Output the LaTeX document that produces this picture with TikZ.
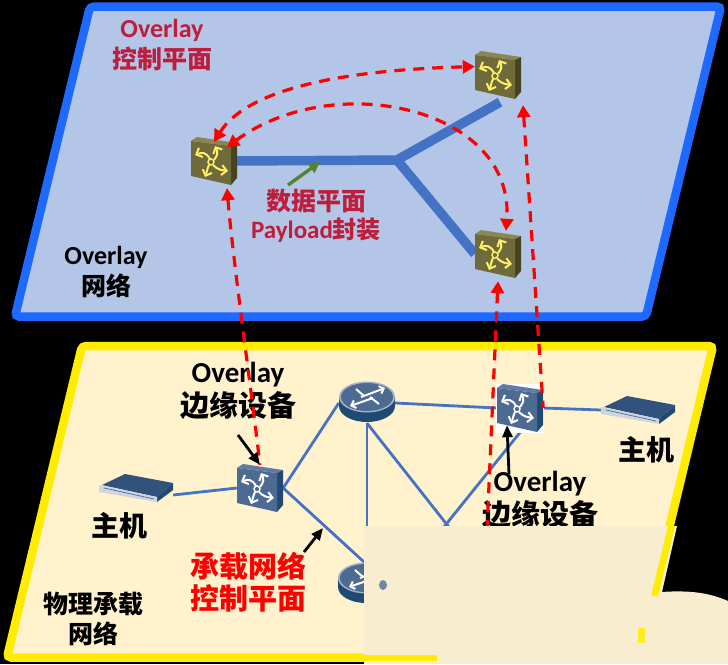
\documentclass[tikz,border=0pt]{standalone}
\usepackage{fontspec}
\setmainfont{Carlito}
\newfontfamily\cjk{Noto Sans CJK SC}
\usepackage{tikz}
\usetikzlibrary{positioning, calc, arrows.meta}
\definecolor{overlayblue}{RGB}{30, 105, 255}
\definecolor{overlayfill}{RGB}{180, 198, 231}
\definecolor{underyellow}{RGB}{255, 236, 0}
\definecolor{underfill}{RGB}{255, 242, 204}
\definecolor{patchfill}{RGB}{249, 237, 208}
\definecolor{linkblue}{RGB}{68, 114, 196}
\definecolor{ctrlred}{RGB}{190, 30, 60}
\definecolor{dataarrow}{RGB}{84, 130, 53}
\definecolor{olfront}{RGB}{110, 106, 58}
\definecolor{oltop}{RGB}{140, 135, 80}
\definecolor{olside}{RGB}{70, 67, 32}
\definecolor{olarrow}{RGB}{255, 240, 105}
\definecolor{stfront}{RGB}{76, 106, 146}
\definecolor{sttop}{RGB}{96, 124, 163}
\definecolor{stside}{RGB}{31, 74, 114}
\definecolor{hosttop}{RGB}{48, 82, 124}
\definecolor{hostfront}{RGB}{205, 213, 223}
\newcommand{\swicon}[4]{
    \fill[#2] (-23,-20) -- (-17,-24) -- (23,-18) -- (17,-15) -- cycle;
    \fill[#3] (17,-15) -- (23,-18) -- (23,17) -- (17,24) -- cycle;
    \fill[#1] (-23,-20) -- (17,-15) -- (17,24) -- (-23,15) -- cycle;
    \draw[#4, line width=2pt, -{Straight Barb[length=5pt,width=10pt]}] (-4,-2) .. controls (-8,-9) and (-12,-9) .. (-19,-6);
    \draw[#4, line width=2pt, -{Straight Barb[length=5pt,width=10pt]}] (0,-1) .. controls (4,-6) and (4,-9) .. (1,-15);
    \draw[#4, line width=2pt, -{Straight Barb[length=5pt,width=10pt]}] (-1,4) .. controls (4,9) and (7,9) .. (14,10);
    \draw[#4, line width=2pt, -{Straight Barb[length=5pt,width=10pt]}] (-5,4) .. controls (-7,8) and (-7,11) .. (-9,16);
    \draw[#4, line width=1.4pt] (-3,1) circle (3);
}
\tikzset{
    pics/olswitch/.style={code={\swicon{olfront}{oltop}{olside}{olarrow}}},
    pics/stswitch/.style={code={\swicon{stfront}{sttop}{stside}{white}}},
    pics/router/.style={code={
        \fill[stside] (-28,-6) -- (-28,3) arc[start angle=180, end angle=360, x radius=28, y radius=-16] -- (28,-6) -- cycle;
        \fill[sttop!60!white] (0,-6) ellipse (28 and 15.5);
        \fill[stfront] (0,-6) ellipse (26 and 14);
        \draw[white, line width=2pt, -{Straight Barb[length=4pt,width=8pt]}] (-6,-6) -- (18,-15);
        \draw[white, line width=2pt, -{Straight Barb[length=4pt,width=8pt]}] (6,-5) -- (-17,3);
        \draw[white, line width=2pt] (-11,-14) -- (-3,-7);
        \draw[white, line width=2pt] (3,-6) -- (12,1);
    }},
    pics/hostbox/.style={code={
        \fill[hosttop] (-34,-3) -- (-11,-14) -- (37,-5) -- (21,9) -- cycle;
        \fill[stside] (21,9) -- (37,-5) -- (37,2) -- (21,14) -- cycle;
        \fill[hostfront] (-37,-3) -- (21,9) -- (21,14) -- (-37,4) -- cycle;
        \draw[stfront, line width=0.7pt] (-32,0) -- (18,11);
    }},
    swnode/.style={minimum width=46pt, minimum height=46pt, inner sep=0pt},
    routernode/.style={minimum width=56pt, minimum height=40pt, inner sep=0pt},
    hostnode/.style={minimum width=74pt, minimum height=28pt, inner sep=0pt},
    plane/.style={line width=8.5pt, rounded corners=4pt},
    datalink/.style={linkblue, line width=9.5pt},
    link/.style={linkblue, line width=2.8pt},
    ctrlpath/.style={red, line width=3.2pt, dash pattern=on 11pt off 8pt, {Triangle[length=12pt,width=13pt]}-{Triangle[length=12pt,width=13pt]}},
    ctrlup/.style={red, line width=3.2pt, dash pattern=on 11pt off 8pt, {Triangle[length=12pt,width=13pt]}-},
    pointer/.style={-{Triangle[length=12pt,width=10pt]}, line width=2.8pt},
    lbl/.style={align=center, inner sep=0pt}
}
\newcommand{\en}[1]{\fontsize{#1}{#1}\selectfont\bfseries}
\newcommand{\zh}[1]{\fontsize{#1}{#1}\selectfont\bfseries\cjk}

\begin{document}
\begin{tikzpicture}[x=1pt, y=-1pt]
    \fill[black] (0,0) rectangle (728,664);
    \useasboundingbox (0,0) rectangle (728,664);

    % planes
    \draw[plane, draw=overlayblue, fill=overlayfill] (90,6.5) -- (721,6.5) -- (646,316.5) -- (15,316.5) -- cycle;
    \draw[plane, draw=underyellow, fill=underfill] (82,346) -- (713,346) -- (638,657.5) -- (7,657.5) -- cycle;

    % device positions
    \node[swnode] (ctrlL) at (214,161) {};
    \node[swnode] (ctrlT) at (498,75) {};
    \node[swnode] (ctrlB) at (498,254) {};
    \coordinate (fork) at (397,160);
    \node[swnode] (edgeL) at (260,488) {};
    \node[swnode] (edgeR) at (520,408) {};
    \node[routernode] (routerT) at (367,403) {};
    \node[routernode] (routerB) at (366,584) {};
    \node[hostnode] (hostL) at (136,488) {};
    \node[hostnode] (hostR) at (638,410) {};
    \coordinate (hideA) at (463,545);
    \coordinate (hideB) at (431,543);
    \coordinate (hideC) at (367,540);
    \coordinate (hideD) at (487,530);

    % data plane
    \draw[datalink] (ctrlL.east) -- (fork.center);
    \draw[datalink] (fork.center) -- ([yshift=-4pt,xshift=2pt]ctrlT.south);
    \draw[datalink] (fork.center) -- (ctrlB.west);
    \draw[-{Triangle[length=11pt,width=11pt]}, dataarrow, line width=3.4pt] (288,185) -- (320,162);

    % underlay links
    \draw[link] ([yshift=-7pt]hostL.east) -- (edgeL.west);
    \draw[link] (edgeL.east) -- (routerT.west);
    \draw[link] (edgeL.east) -- (routerB.north);
    \draw[link] (routerT.east) -- (edgeR.west);
    \draw[link] (edgeR.east) -- (hostR.west);
    \draw[link] (routerT.south) -- (hideC);
    \draw[link] (routerT.south) -- (hideA);
    \draw[link] ([xshift=1pt]edgeR.south) -- (hideB);

    % devices
    \pic at (ctrlL) {olswitch};
    \pic at (ctrlT) {olswitch};
    \pic at (ctrlB) {olswitch};
    \fill[white] (496,384) rectangle (544,433);
    \pic at (edgeL) {stswitch};
    \pic at (edgeR) {stswitch};
    \pic at (routerT) {router};
    \pic at (routerB) {router};
    \pic at (hostL) {hostbox};
    \pic at (hostR) {hostbox};

    % labels
    \node[lbl, text=ctrlred] (ovCtrl) at (162,45) {\en{26}Overlay\\[5pt]\zh{25}控制平面};
    \node[lbl, text=ctrlred] (dataPlane) at (316,216) {\zh{25}数据平面\\[4pt]\en{25}Payload\zh{24}封装};
    \node[lbl] (ovNet) at (106,272) {\en{26}Overlay\\[5pt]\zh{25}网络};
    \node[lbl] (edgeLabelL) at (238,391) {\en{29}Overlay\\[4pt]\zh{29}边缘设备};
    \node[lbl] (hostLabelL) at (119,526) {\zh{28}主机};
    \node[lbl] (hostLabelR) at (646,450) {\zh{28}主机};
    \node[lbl, text=red] (underCtrl) at (248,582) {\zh{29}承载网络\\[3pt]\zh{29}控制平面};
    \node[lbl] (underNet) at (93,619) {\zh{25}物理承载\\[5pt]\zh{25}网络};
    \node[lbl] (edgeLabelR) at (540,500) {\en{29}Overlay\\[4pt]\zh{29}边缘设备};

    % control plane
    \draw[ctrlpath] ([yshift=-4pt]ctrlL.north) .. controls (248,88) and (346,70) .. (ctrlT.160);
    \draw[ctrlpath] ([xshift=13pt,yshift=14pt]ctrlL.center) .. controls (335,68) and (515,108) .. ([xshift=8pt]ctrlB.north);
    \draw[ctrlup] ([xshift=13pt,yshift=-4pt]ctrlL.south) .. controls (233,260) and (250,380) .. (edgeL.north);
    \draw[ctrlup] ([yshift=-4pt]ctrlB.south) -- (hideD);
    \draw[ctrlup] ([xshift=25pt,yshift=-7pt]ctrlT.south) -- (edgeR.east);

    % pointers
    \draw[pointer] (238,435) -- (edgeL.north);
    \draw[pointer] (304,552) -- (323,528);
    \draw[pointer] (509,474) -- ([xshift=-13pt,yshift=6pt]edgeR.south);

    % cover
    \fill[patchfill] (364,526) -- (677,526) -- (662,592) .. controls (690,590) and (710,593) .. (728,601) -- (728,664) -- (364,664) -- cycle;
    \fill[underyellow] (668,526) -- (675,526) -- (658,596) -- (651,596) -- cycle;
    \fill[underyellow!80!patchfill] (638,628) -- (645,628) -- (645,643) -- (638,643) -- cycle;
    \fill[underyellow] (364,655) -- (437,655) -- (437,661) -- (364,661) -- cycle;
    \fill[stfront!80!white] (383,585) ellipse (4 and 5);
\end{tikzpicture}
\end{document}
